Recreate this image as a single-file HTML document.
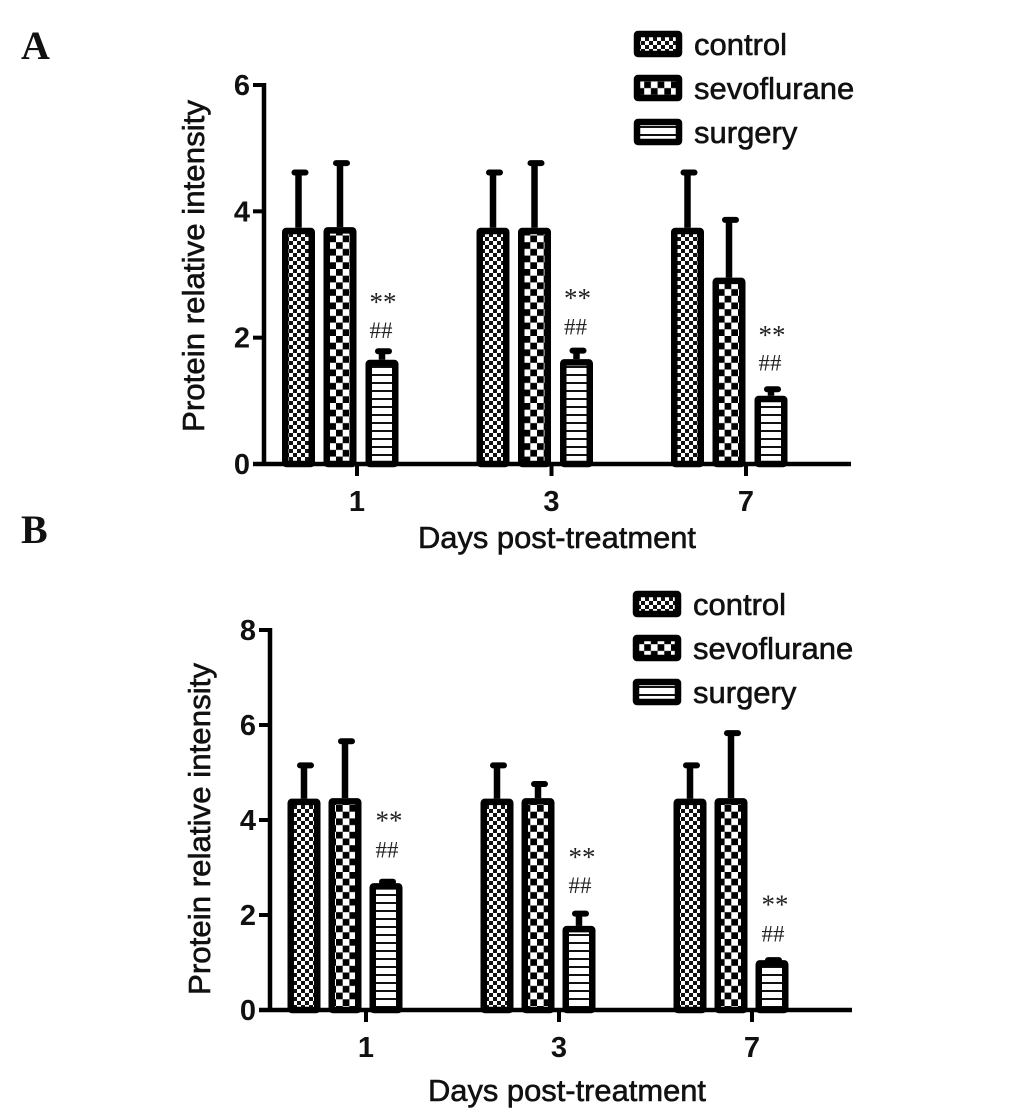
<!DOCTYPE html>
<html lang="en">
<head>
<meta charset="utf-8">
<title>Protein relative intensity</title>
<style>
html,body{margin:0;padding:0;background:#fff}
svg{display:block}
text{font-family:"Liberation Sans",sans-serif;fill:#111}
.tick{font-size:29px;font-weight:bold}
.title{font-size:31px;stroke:#111;stroke-width:.6px}
.leg{font-size:31px;stroke:#111;stroke-width:.6px}
.panel{font-family:"Liberation Serif",serif;font-size:40px;font-weight:bold}
.ann{font-family:"Liberation Serif",serif;font-size:27px;fill:#222}
</style>
</head>
<body>
<svg id="chart" xmlns="http://www.w3.org/2000/svg" width="1033" height="1114" viewBox="0 0 1033 1114">
<defs>
<pattern id="pat-control" patternUnits="userSpaceOnUse" width="8" height="8" x="1" y="1">
<rect width="8" height="8" fill="#fff"/><rect width="4" height="4" fill="#111"/><rect x="4" y="4" width="4" height="4" fill="#111"/>
</pattern>
<pattern id="pat-sevoflurane" patternUnits="userSpaceOnUse" width="13.4" height="13.4" x="1" y="1">
<rect width="13.4" height="13.4" fill="#fff"/><rect width="6.7" height="6.7" fill="#000"/><rect x="6.7" y="6.7" width="6.7" height="6.7" fill="#000"/>
</pattern>
<pattern id="pat-surgery" patternUnits="userSpaceOnUse" width="8" height="8" x="0" y="0">
<rect width="8" height="8" fill="#fff"/><rect y="6" width="8" height="2" fill="#111"/>
</pattern>
</defs>
<text class="panel" x="21" y="59">A</text>
<text class="panel" x="21" y="543">B</text>
<g id="panel-a"></g>
<g id="panel-b"></g>
</svg>
<script>
const categories = ['1', '3', '7'];
const seriesNames = ['control', 'sevoflurane', 'surgery'];

const ticksA = [0, 2, 4, 6];
const controlA = [3.74, 3.74, 3.74];
const controlErrA = [4.63, 4.63, 4.63];
const sevoA = [3.75, 3.74, 2.95];
const sevoErrA = [4.78, 4.78, 3.88];
const surgeryA = [1.65, 1.66, 1.08];
const surgeryErrA = [1.8, 1.81, 1.2];
const starsA = [2.47, 2.53, 1.95];
const hashA = [1.96, 2.02, 1.45];

const ticksB = [0, 2, 4, 6, 8];
const controlB = [4.45, 4.45, 4.45];
const controlErrB = [5.17, 5.17, 5.17];
const sevoB = [4.46, 4.46, 4.46];
const sevoErrB = [5.68, 4.78, 5.85];
const surgeryB = [2.67, 1.77, 1.05];
const surgeryErrB = [2.72, 2.05, 1.07];
const starsB = [3.86, 3.10, 2.09];
const hashB = [3.17, 2.42, 1.4];

const SVGNS = 'http://www.w3.org/2000/svg';
function mk(parent, tag, attrs, txt) {
  const el = document.createElementNS(SVGNS, tag);
  for (const k in attrs) el.setAttribute(k, attrs[k]);
  if (txt !== undefined) el.textContent = txt;
  parent.appendChild(el);
  return el;
}

function drawPanel(root, cfg) {
  const y = v => cfg.y0 - (v / cfg.yMax) * (cfg.y0 - cfg.yTop);
  const xTick = i => cfg.x0 + i * cfg.step;
  const BARW = 26.5, SW = 6.5;

  const yAxis = mk(root, 'line', {x1: cfg.axisX, x2: cfg.axisX, y1: y(cfg.yMax) - 2, y2: cfg.y0, stroke: '#000', 'stroke-width': 4.5});
  
  

  const xAxis = mk(root, 'line', {x1: cfg.axisX - 11, x2: cfg.xEnd, y1: cfg.y0, y2: cfg.y0, stroke: '#000', 'stroke-width': 4.5});
  
  

  cfg.ticks.forEach(t => {
    const tl = mk(root, 'line', {x1: cfg.axisX - 11, x2: cfg.axisX, y1: y(t), y2: y(t), stroke: '#000', 'stroke-width': 4});
    
    
    const lb = mk(root, 'text', {class: 'tick', x: cfg.axisX - 14, y: y(t) + 10, 'text-anchor': 'end'}, String(t));
    
    
  });

  categories.forEach((c, i) => {
    const tl = mk(root, 'line', {x1: xTick(i), x2: xTick(i), y1: cfg.y0, y2: cfg.y0 + 12, stroke: '#000', 'stroke-width': 4});
    
    
    const lb = mk(root, 'text', {class: 'tick', x: xTick(i), y: cfg.y0 + 47, 'text-anchor': 'middle'}, c);
    
    

    cfg.series.forEach((s, j) => {
      const cx = xTick(i) + cfg.offsets[j];
      const topY = y(s.values[i]);
      const errY = y(s.errs[i]);

      const stem = mk(root, 'line', {x1: cx, x2: cx, y1: topY, y2: errY, stroke: '#000', 'stroke-width': 6.5});
      
      

      const cap = mk(root, 'line', {x1: cx - 4, x2: cx + 7, y1: errY + 1, y2: errY + 1, stroke: '#000', 'stroke-width': 6, 'stroke-linecap': 'round'});
      
      

      const bar = mk(root, 'rect', {x: cx - BARW / 2, y: topY + SW / 2, width: BARW, height: cfg.y0 - topY - SW / 2, fill: 'url(#pat-' + seriesNames[j] + ')', stroke: '#000', 'stroke-width': SW, rx: 1});
      
      
    });

    const annX = xTick(i) + cfg.offsets[2] + 1 + cfg.annDx;
    const st = mk(root, 'text', {class: 'ann', x: annX, y: y(cfg.stars[i]) + 3, 'text-anchor': 'middle'}, '**');
    
    
    const ha = mk(root, 'text', {class: 'ann', x: annX - 2, y: y(cfg.hash[i]) - 2, 'text-anchor': 'middle', style: 'font-size:23px'}, '##');
    
    
  });

  const xt = mk(root, 'text', {class: 'title', x: cfg.xTitleX, y: cfg.xTitleY, 'text-anchor': 'middle', textLength: 278, lengthAdjust: 'spacingAndGlyphs'}, 'Days post-treatment');
  
  

  const yt = mk(root, 'text', {class: 'title', transform: 'translate(' + cfg.yTitleX + ',' + cfg.yTitleY + ') rotate(-90)', 'text-anchor': 'middle', textLength: 332, lengthAdjust: 'spacingAndGlyphs'}, 'Protein relative intensity');
  
  

  seriesNames.forEach((n, j) => {
    const ly = cfg.legendY + j * 44;
    const sw = mk(root, 'rect', {x: cfg.legendX + 3, y: ly + 3, width: 42, height: 20, rx: 1, fill: 'url(#pat-' + n + ')', stroke: '#000', 'stroke-width': 6.5});
    
    
    const lt = mk(root, 'text', {class: 'leg', x: cfg.legendX + 60, y: ly + 24}, n);
    
    
  });
}

drawPanel(document.getElementById('panel-a'), {
  y0: 464, yTop: 85, yMax: 6, axisX: 264, xEnd: 851, x0: 357, step: 194.5,
  offsets: [-58.5, -17, 25], ticks: ticksA, annDx: 0,
  series: [
    {values: controlA, errs: controlErrA},
    {values: sevoA, errs: sevoErrA},
    {values: surgeryA, errs: surgeryErrA}
  ],
  stars: starsA, hash: hashA,
  xTitleX: 557, xTitleY: 548, yTitleX: 204, yTitleY: 266,
  legendX: 634, legendY: 31
});

drawPanel(document.getElementById('panel-b'), {
  y0: 1010, yTop: 630, yMax: 8, axisX: 270, xEnd: 852, x0: 366, step: 193,
  offsets: [-62, -21, 20], ticks: ticksB, annDx: 2,
  series: [
    {values: controlB, errs: controlErrB},
    {values: sevoB, errs: sevoErrB},
    {values: surgeryB, errs: surgeryErrB}
  ],
  stars: starsB, hash: hashB,
  xTitleX: 567, xTitleY: 1101, yTitleX: 210, yTitleY: 829,
  legendX: 633, legendY: 591
});
</script>
</body>
</html>
